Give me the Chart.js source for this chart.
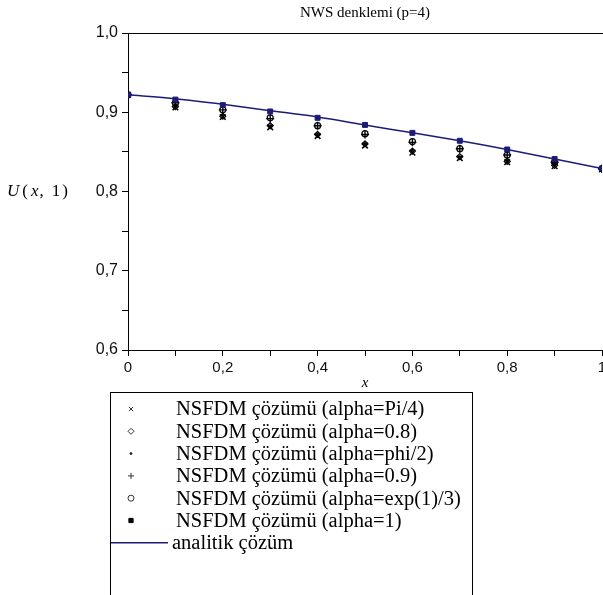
<!DOCTYPE html>
<html>
<head>
<meta charset="utf-8">
<script src="https://cdn.jsdelivr.net/npm/chart.js@4.4.1/dist/chart.umd.min.js"></script>
<style>
html,body{margin:0;padding:0;background:#fff;overflow:hidden}
#wrap{width:603px;height:595px;overflow:hidden}
</style>
</head>
<body>
<div id="wrap"><canvas id="c" width="616" height="595"></canvas></div>
<script>
// x positions
var xVals = [0, 0.1, 0.2, 0.3, 0.4, 0.5, 0.6, 0.7, 0.8, 0.9, 1];

// U(x,1)
var analitik    = [0.922, 0.917, 0.910, 0.902, 0.894, 0.884, 0.874, 0.864, 0.853, 0.841, 0.829];
var alphaPi4    = [0.922, 0.906, 0.894, 0.881, 0.870, 0.858, 0.849, 0.842, 0.837, 0.832, 0.828];
var alpha08     = [0.922, 0.907, 0.895, 0.883, 0.872, 0.860, 0.851, 0.844, 0.838, 0.833, 0.828];
var alphaPhi2   = [0.922, 0.907, 0.896, 0.883, 0.873, 0.861, 0.852, 0.844, 0.839, 0.833, 0.828];
var alpha09     = [0.922, 0.912, 0.903, 0.892, 0.883, 0.872, 0.862, 0.854, 0.846, 0.837, 0.829];
var alphaExp3   = [0.922, 0.912, 0.903, 0.893, 0.883, 0.873, 0.863, 0.854, 0.846, 0.837, 0.829];
var alpha1      = [0.922, 0.916, 0.909, 0.901, 0.893, 0.884, 0.874, 0.864, 0.853, 0.841, 0.829];

var seriesNames = [
  'NSFDM çözümü (alpha=Pi/4)',
  'NSFDM çözümü (alpha=0.8)',
  'NSFDM çözümü (alpha=phi/2)',
  'NSFDM çözümü (alpha=0.9)',
  'NSFDM çözümü (alpha=exp(1)/3)',
  'NSFDM çözümü (alpha=1)',
  'analitik çözüm'
];

var yTicks = ['0,6', '0,7', '0,8', '0,9', '1,0'];
var xTicks = ['0', '0,2', '0,4', '0,6', '0,8', '1'];

var navy = '#1c1c78';
var serif = '"Liberation Serif", "Times New Roman", serif';
var sans = '"Liberation Sans", Arial, sans-serif';

function pts(arr){
  return xVals.map(function(x, i){ return {x: x, y: arr[i]}; });
}

function mark(name, arr, style, r, fill, border, bw){
  return {
    label: name, data: pts(arr), showLine: false,
    pointStyle: style, pointRadius: r, pointHoverRadius: r,
    pointBorderWidth: bw || 1, pointBorderColor: border || '#000',
    pointBackgroundColor: fill || 'rgba(0,0,0,0)'
  };
}

var datasets = [
  {
    label: seriesNames[6], data: pts(analitik), showLine: true,
    borderColor: navy, borderWidth: 1.5, pointRadius: 0, tension: 0.3, fill: false
  },
  mark(seriesNames[5], alpha1, 'rect', 3.5, navy, navy),
  mark(seriesNames[4], alphaExp3, 'circle', 3, null, null, 1.2),
  mark(seriesNames[3], alpha09, 'cross', 4, null, null, 1.4),
  mark(seriesNames[2], alphaPhi2, 'circle', 1, '#000'),
  mark(seriesNames[1], alpha08, 'rectRot', 3, null, null, 1.2),
  mark(seriesNames[0], alphaPi4, 'crossRot', 4, null, null, 1.5)
];

// pick the label for tick v out of a list spread evenly over [lo, hi]
function labelFor(list, lo, hi, v){
  var step = (hi - lo) / (list.length - 1);
  var k = (v - lo) / step;
  return Math.abs(k - Math.round(k)) < 1e-6 ? list[Math.round(k)] : '';
}

var extras = {
  id: 'extras',
  afterDraw: function(chart){
    var ctx = chart.ctx, a = chart.chartArea;
    var ys = chart.scales.y;
    ctx.save();
    // top frame line
    ctx.strokeStyle = '#000'; ctx.lineWidth = 1;
    ctx.beginPath(); ctx.moveTo(a.left, Math.round(a.top) + 0.5); ctx.lineTo(a.right + 10, Math.round(a.top) + 0.5); ctx.stroke();

    // title
    ctx.fillStyle = '#000'; ctx.textBaseline = 'middle'; ctx.textAlign = 'center';
    ctx.font = '15px ' + serif;
    ctx.fillText('NWS denklemi (p=4)', (a.left + a.right) / 2, 13);

    // y title U(x, 1)
    ctx.textAlign = 'left';
    var ty = ys.getPixelForValue(0.8), tx = 7;
    var parts = [['U', 'italic', 3], ['(', 'normal', 3], ['x', 'italic', 1], [',', 'normal', 8], ['1', 'normal', 2], [')', 'normal', 0]];
    parts.forEach(function(p){
      ctx.font = p[1] + ' 17px ' + serif;
      ctx.fillText(p[0], tx, ty);
      tx += ctx.measureText(p[0]).width + p[2];
    });

    // x title
    ctx.font = 'italic 15px ' + serif; ctx.textAlign = 'center';
    ctx.fillText('x', (a.left + a.right) / 2, a.bottom + 33);

    // legend box
    var bx = 110, by = 392, bw = 362;
    ctx.strokeStyle = '#000'; ctx.lineWidth = 1;
    ctx.strokeRect(bx + 0.5, by + 0.5, bw, 230);
    var order = [6, 5, 4, 3, 2, 1, 0];
    ctx.font = '20.5px ' + serif; ctx.textAlign = 'left'; ctx.textBaseline = 'middle';
    order.forEach(function(di, row){
      var ds = datasets[di];
      var yy = by + 17 + row * 22.3;
      ctx.fillStyle = '#000';
      ctx.fillText(ds.label, di === 0 ? 172 : 176, yy + 1);
      if (di === 0) {
        ctx.strokeStyle = navy; ctx.lineWidth = 1.5;
        ctx.beginPath(); ctx.moveTo(bx + 1, yy); ctx.lineTo(168, yy); ctx.stroke();
      } else {
        ctx.strokeStyle = '#333'; ctx.fillStyle = ds.pointBackgroundColor; ctx.lineWidth = 1;
        if (di === 1) { ctx.fillStyle = '#000'; ctx.strokeStyle = '#000'; }
        Chart.helpers.drawPoint(ctx, {
          pointStyle: ds.pointStyle, radius: di === 4 ? 1 : 3, rotation: 0, borderWidth: 1
        }, 131, yy);
      }
    });
    ctx.restore();
  }
};

new Chart(document.getElementById('c'), {
  type: 'scatter',
  data: { datasets: datasets },
  options: {
    responsive: false,
    animation: false,
    layout: { padding: { left: 0, right: 14, top: 33, bottom: 205 } },
    plugins: {
      legend: { display: false },
      tooltip: { enabled: false },
      title: { display: false }
    },
    scales: {
      x: {
        type: 'linear', min: 0, max: 1,
        afterFit: function(s){ s.height = 40; },
        grid: { drawOnChartArea: false, drawTicks: true, tickLength: 6, color: '#000' },
        border: { color: '#000', width: 1 },
        ticks: {
          stepSize: 0.1, color: '#111', padding: 3, maxRotation: 0, autoSkip: false,
          font: { family: sans, size: 15 },
          callback: function(v){ return labelFor(xTicks, 0, 1, v); }
        }
      },
      y: {
        type: 'linear', min: 0.6, max: 1.0,
        afterFit: function(s){ s.width = 128; },
        grid: { drawOnChartArea: false, drawTicks: true, tickLength: 6, color: '#000' },
        border: { color: '#000', width: 1 },
        ticks: {
          stepSize: 0.05, color: '#111', padding: 4, autoSkip: false,
          font: { family: sans, size: 16 },
          callback: function(v){ return labelFor(yTicks, 0.6, 1.0, v); }
        }
      }
    }
  },
  plugins: [extras]
});
</script>
</body>
</html>
